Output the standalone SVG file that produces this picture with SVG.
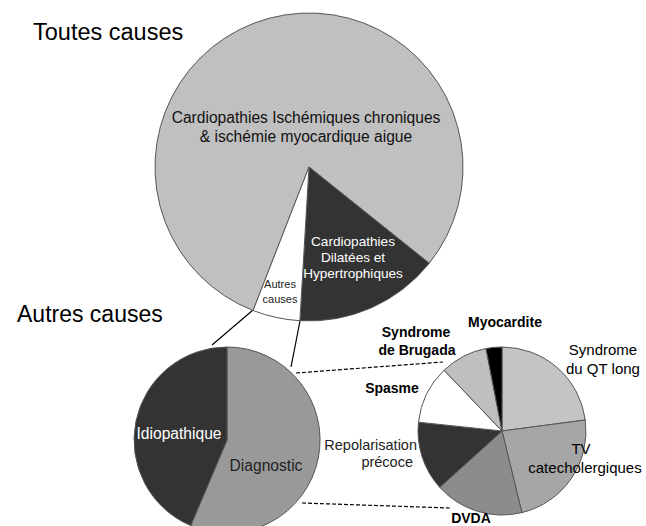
<svg xmlns="http://www.w3.org/2000/svg" width="646" height="526" viewBox="0 0 646 526">
<style>
.t{font-family:"Liberation Sans",Arial,sans-serif;}
.s{stroke:#555;stroke-width:1;stroke-linejoin:round;}
.lbl{font-family:"Liberation Sans",Arial,sans-serif;font-size:14px;font-weight:bold;fill:#000;text-anchor:middle;}
.lbn{font-family:"Liberation Sans",Arial,sans-serif;font-size:15px;fill:#000;text-anchor:middle;}
.conn{stroke:#000;stroke-width:1.2;fill:none;}
.dash{stroke:#000;stroke-width:1.2;fill:none;stroke-dasharray:4,2;}
</style>
<rect width="646" height="526" fill="#fff"/>
<text class="t" x="33" y="40" font-size="23.5" fill="#000">Toutes causes</text>
<text class="t" x="17" y="322" font-size="23" fill="#000">Autres causes</text>

<g id="connectors">
<line class="conn" x1="253" y1="310" x2="212" y2="345"/>
<line class="conn" x1="300" y1="321" x2="291" y2="367"/>
<line class="dash" x1="296" y1="373" x2="443" y2="362"/>
<line class="dash" x1="302" y1="503" x2="450" y2="508"/>
</g>

<g id="pie-toutes">
<path class="s" fill="#c0c0c0" d="M309,167 L253.1,310.5 A154,154 0 1 1 429.2,263.3 Z"/>
<path class="s" fill="#333" d="M309,167 L429.2,263.3 A154,154 0 0 1 299.9,320.7 Z"/>
<path class="s" fill="#fff" d="M309,167 L299.9,320.7 A154,154 0 0 1 253.1,310.5 Z"/>
<text class="t" font-size="15.6" fill="#111" text-anchor="middle"><tspan x="306" y="123">Cardiopathies Ischémiques chroniques</tspan><tspan x="306" y="142">&amp; ischémie myocardique aigue</tspan></text>
<text class="t" font-size="13.6" fill="#fff" text-anchor="middle"><tspan x="353" y="246">Cardiopathies</tspan><tspan x="353" y="262">Dilatées et</tspan><tspan x="353" y="278">Hypertrophiques</tspan></text>
<text class="t" font-size="11" fill="#222" text-anchor="middle"><tspan x="280" y="288">Autres</tspan><tspan x="280" y="303">causes</tspan></text>
</g>

<g id="pie-autres">
<path class="s" fill="#999" d="M227,440 L227,347 A93,93 0 1 1 190.7,525.6 Z"/>
<path class="s" fill="#333" d="M227,440 L190.7,525.6 A93,93 0 0 1 227,347 Z"/>
<text class="t" x="179" y="439" font-size="15.6" fill="#fff" text-anchor="middle">Idiopathique</text>
<text class="t" x="266" y="471" font-size="15.6" fill="#222" text-anchor="middle">Diagnostic</text>
</g>

<g id="pie-diagnostic">
<path class="s" fill="#c4c4c4" d="M502,431 L502,347 A84,84 0 0 1 585.3,420 Z"/>
<path class="s" fill="#a6a6a6" d="M502,431 L585.3,420 A84,84 0 0 1 521.9,512.6 Z"/>
<path class="s" fill="#8c8c8c" d="M502,431 L521.9,512.6 A84,84 0 0 1 439.7,487.3 Z"/>
<path class="s" fill="#333" d="M502,431 L439.7,487.3 A84,84 0 0 1 418.5,422.2 Z"/>
<path class="s" fill="#fff" d="M502,431 L418.5,422.2 A84,84 0 0 1 444.1,370.2 Z"/>
<path class="s" fill="#bfbfbf" d="M502,431 L444.1,370.2 A84,84 0 0 1 486,348.5 Z"/>
<path class="s" fill="#000" d="M502,431 L486,348.5 A84,84 0 0 1 502,347 Z"/>
</g>

<g id="label-myocardite"><text class="lbl" x="505" y="327">Myocardite</text></g>
<g id="label-brugada"><text class="lbl"><tspan x="416" y="337">Syndrome</tspan><tspan x="417" y="355">de Brugada</tspan></text></g>
<g id="label-qt"><text class="lbn"><tspan x="603" y="355">Syndrome</tspan><tspan x="603" y="374">du QT long</tspan></text></g>
<g id="label-spasme"><text class="lbl" x="392" y="393">Spasme</text></g>
<g id="label-repol"><text class="t" font-size="14.5" fill="#222" text-anchor="end"><tspan x="417" y="450">Repolarisation</tspan><tspan x="413" y="467">précoce</tspan></text></g>
<g id="label-tv"><text class="lbn"><tspan x="581" y="454">TV</tspan><tspan x="585" y="473">catecholergiques</tspan></text></g>
<g id="label-dvda"><text class="lbl" x="471" y="523" font-size="15">DVDA</text></g>
</svg>
